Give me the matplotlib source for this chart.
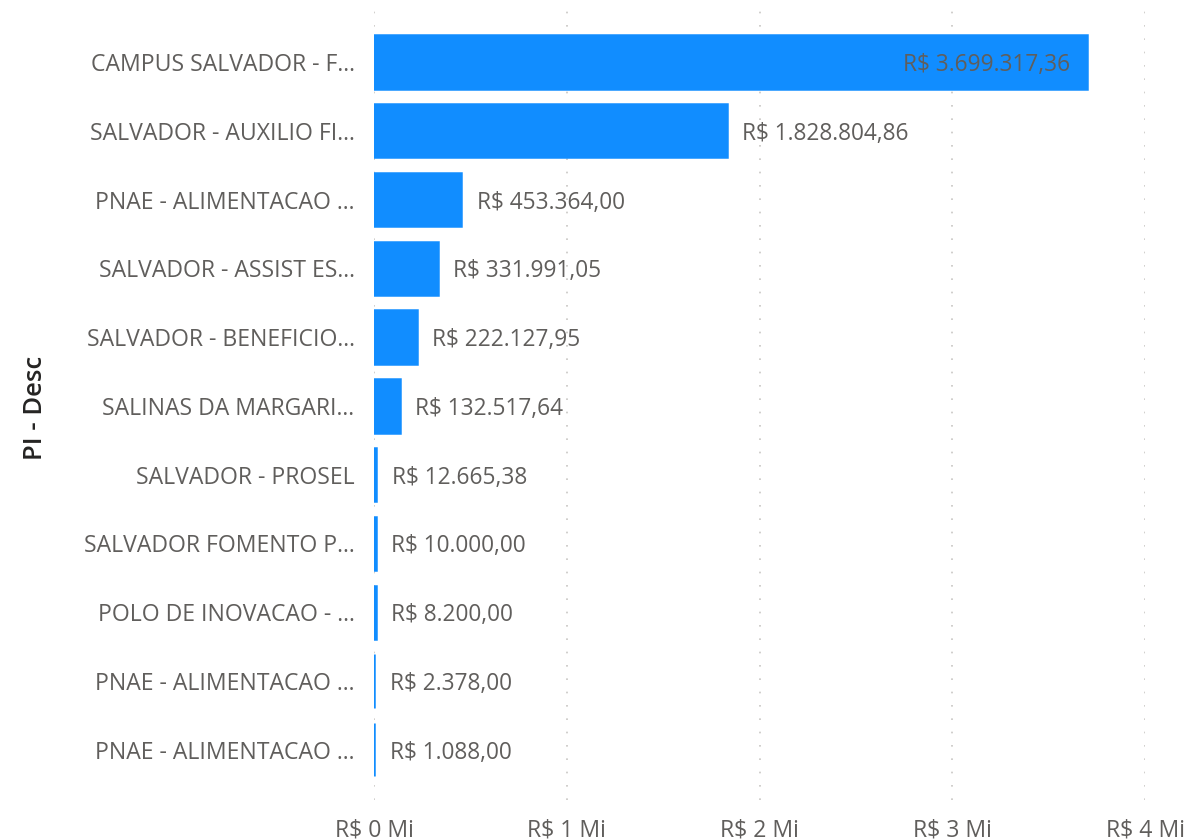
import matplotlib.pyplot as plt
from matplotlib.ticker import FixedLocator

# Données
categories = [
    "CAMPUS SALVADOR - F...",
    "SALVADOR - AUXILIO FI...",
    "PNAE - ALIMENTACAO ...",
    "SALVADOR - ASSIST ES...",
    "SALVADOR - BENEFICIO...",
    "SALINAS DA MARGARI...",
    "SALVADOR - PROSEL",
    "SALVADOR FOMENTO P...",
    "POLO DE INOVACAO - ...",
    "PNAE - ALIMENTACAO ...",
    "PNAE - ALIMENTACAO ...",
]
valeurs = [3699317.36, 1828804.86, 453364.00, 331991.05, 222127.95,
           132517.64, 12665.38, 10000.00, 8200.00, 2378.00, 1088.00]
ticks_x = [0, 1e6, 2e6, 3e6, 4e6]
ticks_labels = ["R$ 0 Mi", "R$ 1 Mi", "R$ 2 Mi", "R$ 3 Mi", "R$ 4 Mi"]


def format_brl(v):
    s = f"{v:,.2f}".replace(",", "X").replace(".", ",").replace("X", ".")
    return "R$ " + s


plt.rcParams["font.family"] = ["Open Sans", "DejaVu Sans"]
gris = "#605E5C"
bleu = "#118DFF"

fig = plt.figure(figsize=(11.89, 8.4), dpi=100)
ax = fig.add_axes([374 / 1189, 40 / 840, (1145 - 374) / 1189, 790 / 840])

y = list(range(len(categories)))
# bordure fine pour que les très petites barres restent visibles
ax.barh(y, valeurs, height=0.775, color=bleu, edgecolor=bleu, linewidth=1.8, zorder=2)
ax.set_xlim(0, 4e6)
ax.set_ylim(10.73, -0.756)

for i, v in enumerate(valeurs):
    if v > 3e6:
        ax.text(v - 0.09e6, i, format_brl(v), va="center_baseline", ha="right",
                fontsize=16.3, color=gris, zorder=3)
    else:
        ax.text(v + 0.08e6, i, format_brl(v), va="center_baseline", ha="left",
                fontsize=16.3, color=gris, zorder=3)

ax.set_yticks(y)
ax.set_yticklabels(categories, fontsize=16.6, color=gris)
ax.xaxis.set_major_locator(FixedLocator(ticks_x))
ax.set_xticklabels(ticks_labels, fontsize=16.6, color=gris)
ax.tick_params(axis="both", length=0)
ax.tick_params(axis="y", pad=14)
ax.tick_params(axis="x", pad=13)

ax.grid(axis="x", color="#C8C6C4", linestyle=(0, (1, 7)), linewidth=1.2, zorder=0)
for s in ax.spines.values():
    s.set_visible(False)

fig.text(36 / 1189, 1 - 408 / 840, "PI - Desc", rotation=90, ha="center",
         va="center", fontsize=18.5, fontweight="semibold", color="#252423")

fig.savefig("out.png", dpi=100)
